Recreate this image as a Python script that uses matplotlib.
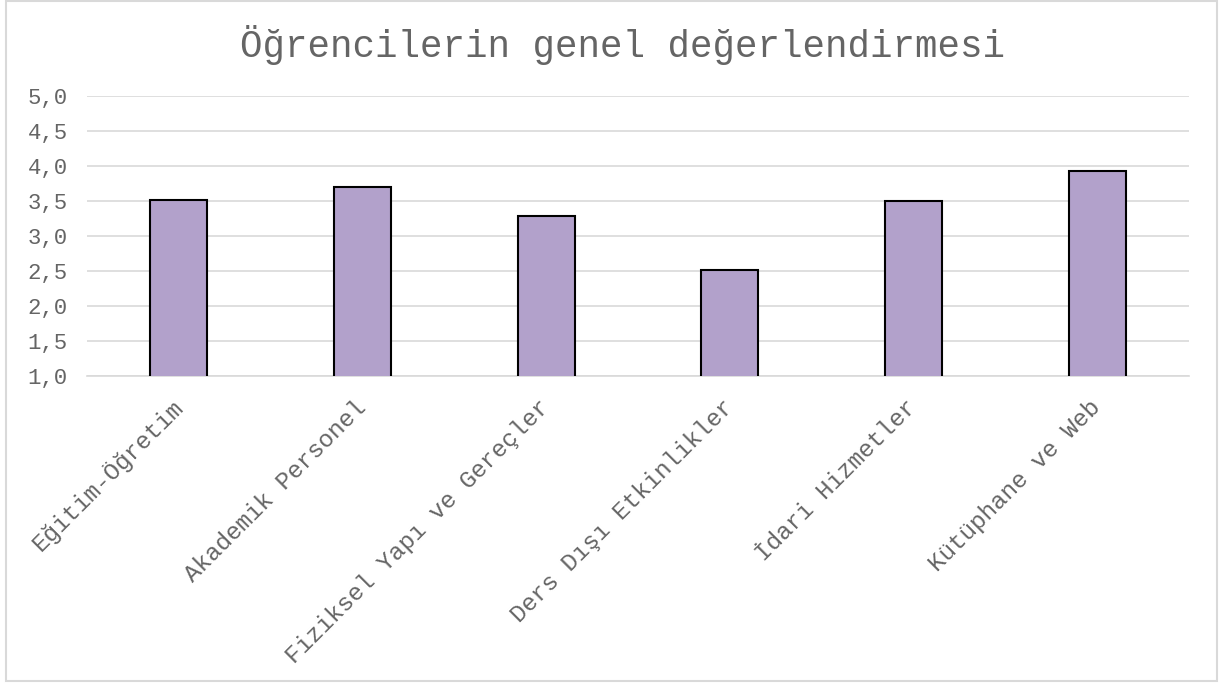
import matplotlib.pyplot as plt
from matplotlib.patches import Rectangle

# chart data
categories = ["Eğitim-Öğretim", "Akademik Personel", "Fiziksel Yapı ve Gereçler",
              "Ders Dışı Etkinlikler", "İdari Hizmetler", "Kütüphane ve Web"]
scores = [3.51, 3.70, 3.29, 2.51, 3.50, 3.93]
y_ticks = [1.0, 1.5, 2.0, 2.5, 3.0, 3.5, 4.0, 4.5, 5.0]
y_tick_labels = ["1,0", "1,5", "2,0", "2,5", "3,0", "3,5", "4,0", "4,5", "5,0"]
title = "Öğrencilerin genel değerlendirmesi"

font = "Liberation Mono"
text_color = "#656565"
grid_color = "#D9D9D9"

fig = plt.figure(figsize=(12.21, 6.84), dpi=100)
ax = fig.add_axes([87 / 1221, 1 - 376 / 684, 1102 / 1221, 280 / 684])

x = range(len(categories))
ax.bar(x, scores, width=0.31, bottom=0, color="#B2A1CB",
       edgecolor="black", linewidth=1.5, zorder=3)

ax.set_xlim(-0.5, len(categories) - 0.5)
ax.set_ylim(1.0, 5.0)
ax.set_yticks(y_ticks)
ax.set_yticklabels(y_tick_labels, fontfamily=font, fontsize=16, color=text_color)
ax.set_xticks(list(x))
ax.set_xticklabels(categories, fontfamily=font, fontsize=17.5, color=text_color,
                   rotation=45, ha="right", va="center", rotation_mode="anchor")
ax.tick_params(axis="y", length=0, pad=14)
ax.tick_params(axis="x", length=0, pad=20)

ax.grid(axis="y", color=grid_color, linewidth=1.2, zorder=0)
for side in ["top", "right", "left"]:
    ax.spines[side].set_visible(False)
ax.spines["bottom"].set_color(grid_color)
ax.spines["bottom"].set_linewidth(1.2)

fig.text(622 / 1221, 1 - 45 / 684, title, fontfamily=font, fontsize=27,
         color=text_color, ha="center", va="center")

# chart area border
fig.patches.append(Rectangle((6 / 1221, 3 / 684), 1211 / 1221, 680 / 684,
                             transform=fig.transFigure, fill=False,
                             edgecolor=grid_color, linewidth=1.5))

fig.savefig("out.png", dpi=100, facecolor="white")
